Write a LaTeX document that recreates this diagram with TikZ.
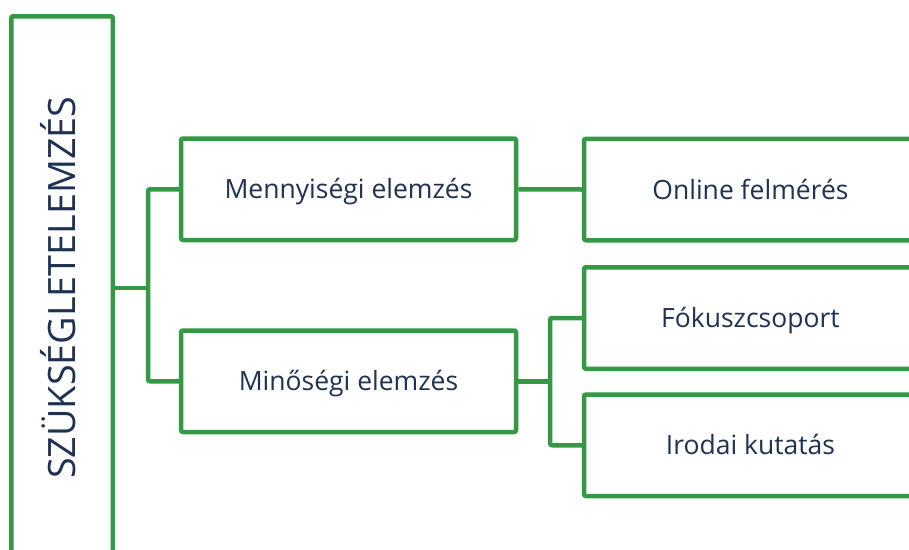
\documentclass[tikz,border=0pt]{standalone}
\usepackage{fontspec}
\setmainfont{Open Sans}
\definecolor{boxgreen}{RGB}{52,152,68}
\definecolor{txtnavy}{RGB}{31,50,84}
\begin{document}
\begin{tikzpicture}[x=1pt,y=-1pt,
  box/.style={draw=boxgreen, line width=4.5pt, rounded corners=2pt, fill=white,
    text=txtnavy, font=\fontsize{26.5}{32}\selectfont, text height=19pt, text depth=0pt,
    minimum height=101.5pt, inner sep=0pt},
  conn/.style={draw=boxgreen, line width=4.5pt, rounded corners=2pt}]
\clip (0,0) rectangle (909,549);
\useasboundingbox (0,0) rectangle (909,549);
% main vertical box
\node[box, rotate=90, minimum width=543pt, minimum height=101.5pt,
  font=\fontsize{37.7}{44}\selectfont, text height=27pt] (main) at (62,287.75) {SZÜKSÉGLETELEMZÉS};
% second level
\node[box, minimum width=335pt] (m1) at (348.5,189.25) {Mennyiségi elemzés};
\node[box, minimum width=335pt] (m2) at (348.5,381.25) {Minőségi elemzés};
% third level
\node[box, minimum width=333pt] (o) at (750.5,189.5) {Online felmérés};
\node[box, minimum width=333pt] (f) at (750.5,318) {Fókuszcsoport};
\node[box, minimum width=333pt] (i) at (750.5,445.25) {Irodai kutatás};
% connectors
\coordinate (t1) at (148,287.75);
\coordinate (t2) at (550,381.25);
\draw[conn] (main.south) -- (t1);
\draw[conn] (m1.west) -| (t1) |- (m2.west);
\draw[conn] (m1.east) -- (o.west);
\draw[conn] (m2.east) -- (t2);
\draw[conn] (f.west) -| (t2) |- (i.west);
\end{tikzpicture}
\end{document}
